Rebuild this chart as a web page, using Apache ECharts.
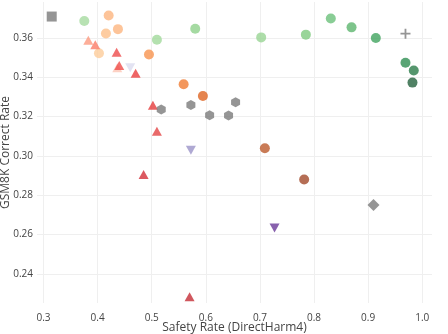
<!DOCTYPE html>
<html>
<head>
<meta charset="utf-8">
<script src="https://cdn.jsdelivr.net/npm/echarts@6/dist/echarts.min.js"></script>
<style>html,body{margin:0;padding:0;background:#fff}#c{width:448px;height:334px}</style>
</head>
<body>
<div id="c"></div>
<script>
// ---- data (Safety Rate, GSM8K Correct Rate) ----
const greenCircles = [[0.3754,0.3686],[0.5096,0.3591],[0.5804,0.3647],[0.7023,0.3603],[0.7849,0.3617],[0.8310,0.3699],[0.8693,0.3654],[0.9142,0.3600],[0.9690,0.3474],[0.9843,0.3435],[0.9819,0.3373]];
const orangeCircles = [[0.4025,0.3522],[0.4154,0.3623],[0.4204,0.3714],[0.4376,0.3645],[0.4949,0.3516],[0.5590,0.3365],[0.5946,0.3305],[0.7091,0.3039],[0.7817,0.2880]];
const redTriangles = [[0.4363,0.3448],[0.3828,0.3588],[0.3957,0.3565],[0.4352,0.3527],[0.4400,0.3460],[0.4703,0.3420],[0.5022,0.3258],[0.5096,0.3126],[0.4850,0.2906],[0.5700,0.2284]];
const purpleDown = [[0.4603,0.3448],[0.5724,0.3029],[0.7270,0.2634]];
const greyHexagons = [[0.5176,0.3236],[0.5724,0.3259],[0.6070,0.3207],[0.6420,0.3206],[0.6550,0.3273]];
const greySquare = [[0.3152,0.3709]];
const greyPlus = [[0.9690,0.3622]];
const greyDiamond = [[0.9099,0.2751]];
const xTicks = [0.3,0.4,0.5,0.6,0.7,0.8,0.9,1.0];
const yTicks = [0.24,0.26,0.28,0.30,0.32,0.34,0.36];

// ---- styles ----
const greenColors = ['#a6dba0','#a1d99b','#8fd18b','#98d594','#80ca80','#6cc07a','#5db56e','#41a45f','#2f8f52','#2a7c49','#24623d'];
const orangeColors = ['#fdcc9a','#fdbf8a','#fdb57f','#fdb57f','#f7944f','#f07d35','#de6523','#bb5a2c','#a24a2a'];
const redColors = ['#fcc5b5','#fc9a80','#fb7c66','#ee4b4b','#ef4c4a','#ea3f3f','#e53c3c','#e44545','#d32f3a','#c42d36'];
const purpleColors = ['#dcdcef','#9b94c8','#6a3a98'];
const grey = '#7a7a7a';
const HEX = 'path://M0,-1L0.866,-0.5L0.866,0.5L0,1L-0.866,0.5L-0.866,-0.5Z';
const PLUS = 'path://M-0.18,-1H0.18V-0.18H1V0.18H0.18V1H-0.18V0.18H-1V-0.18H-0.18Z';
const DIAM = 'path://M0,-1L1,0L0,1L-1,0Z';

function colored(arr, colors){ return arr.map((p,i)=>({value:p, itemStyle:{color:colors[i]}})); }

const FONT = 'Open Sans';
const chart = echarts.init(document.getElementById('c'), null, {renderer:'canvas'});
chart.setOption({
  animation:false,
  backgroundColor:'#fff',
  grid:{left:37,right:16,top:2,bottom:31,containLabel:false,outerBoundsMode:'none'},
  xAxis:{
    type:'value', min:0.288, max:1.018,
    name:'Safety Rate (DirectHarm4)', nameLocation:'middle', nameGap:19, nameMoveOverlap:false,
    nameTextStyle:{color:'#444',fontSize:12,fontFamily:FONT},
    axisLine:{show:false}, axisTick:{show:false, customValues:xTicks},
    axisLabel:{customValues:xTicks, color:'#444', fontSize:10, fontFamily:FONT, margin:10, formatter:v=>v.toFixed(1)},
    splitLine:{show:true, lineStyle:{color:'#efefef',width:1}}
  },
  yAxis:{
    type:'value', min:0.2252, max:0.3783,
    name:'GSM8K Correct Rate', nameLocation:'middle', nameGap:25, nameMoveOverlap:false,
    nameTextStyle:{color:'#444',fontSize:12,fontFamily:FONT},
    axisLine:{show:false}, axisTick:{show:false, customValues:yTicks},
    axisLabel:{customValues:yTicks, color:'#444', fontSize:10, fontFamily:FONT, margin:4, formatter:v=>v.toFixed(2)},
    splitLine:{show:true, lineStyle:{color:'#efefef',width:1}}
  },
  series:[
    {type:'scatter', symbol:'circle', symbolSize:10, data:colored(greenCircles, greenColors)},
    {type:'scatter', symbol:'circle', symbolSize:10, data:colored(orangeCircles, orangeColors)},
    {type:'scatter', symbol:'triangle', symbolSize:[10,9], data:colored(redTriangles, redColors)},
    {type:'scatter', symbol:'triangle', symbolRotate:180, symbolSize:[10,9], data:colored(purpleDown, purpleColors)},
    {type:'scatter', symbol:HEX, symbolSize:[9,10], itemStyle:{color:grey}, data:greyHexagons},
    {type:'scatter', symbol:'rect', symbolSize:10, itemStyle:{color:grey}, data:greySquare},
    {type:'scatter', symbol:PLUS, symbolSize:10, itemStyle:{color:grey}, data:greyPlus},
    {type:'scatter', symbol:DIAM, symbolSize:12, itemStyle:{color:grey}, data:greyDiamond}
  ]
});
</script>
</body>
</html>
